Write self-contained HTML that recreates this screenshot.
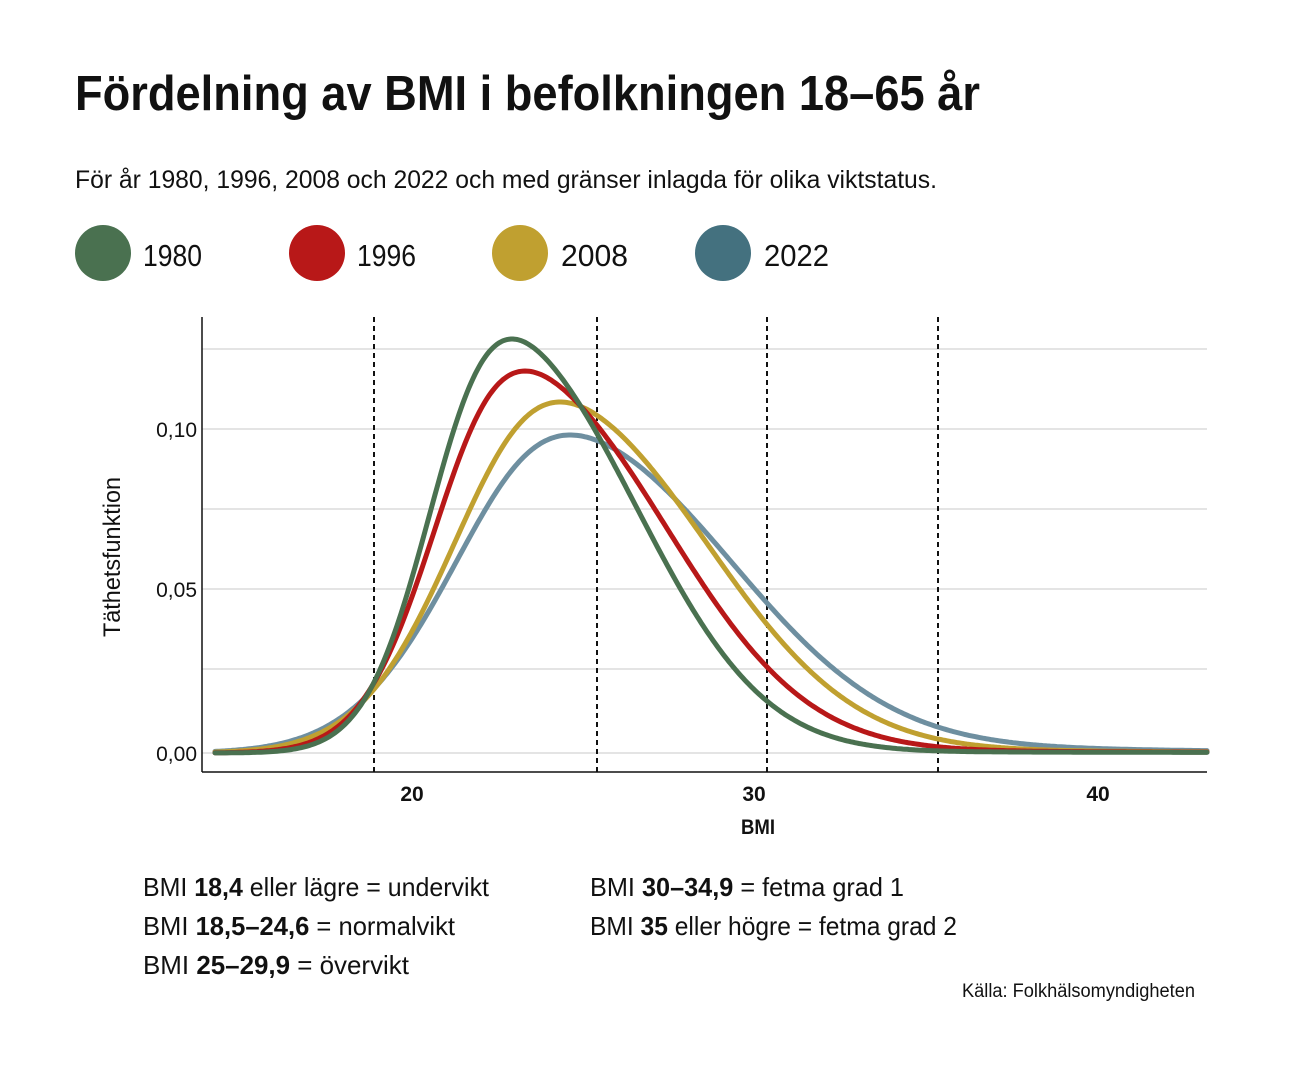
<!DOCTYPE html>
<html><head><meta charset="utf-8"><style>
html,body{margin:0;padding:0;background:#fff}
svg{display:block;font-family:"Liberation Sans",sans-serif}
</style></head><body>
<svg id="s" width="1292" height="1080" viewBox="0 0 1292 1080">
<text x="75" y="110" font-size="49" font-weight="bold" fill="#111" textLength="905" lengthAdjust="spacingAndGlyphs">Fördelning av BMI i befolkningen 18–65 år</text>
<text x="75" y="188" font-size="25" fill="#111" textLength="862" lengthAdjust="spacingAndGlyphs">För år 1980, 1996, 2008 och 2022 och med gränser inlagda för olika viktstatus.</text>
<circle cx="103" cy="253" r="28" fill="#4a7150"/><text x="143" y="266" font-size="31" fill="#111" textLength="59" lengthAdjust="spacingAndGlyphs">1980</text>
<circle cx="317" cy="253" r="28" fill="#b81818"/><text x="357" y="266" font-size="31" fill="#111" textLength="59" lengthAdjust="spacingAndGlyphs">1996</text>
<circle cx="520" cy="253" r="28" fill="#c0a030"/><text x="561" y="266" font-size="31" fill="#111" textLength="67" lengthAdjust="spacingAndGlyphs">2008</text>
<circle cx="723" cy="253" r="28" fill="#44717f"/><text x="764" y="266" font-size="31" fill="#111" textLength="65" lengthAdjust="spacingAndGlyphs">2022</text>
<g stroke="#d4d4d4" stroke-width="1.3">
<line x1="202" x2="1207" y1="349" y2="349"/><line x1="202" x2="1207" y1="429" y2="429"/>
<line x1="202" x2="1207" y1="509" y2="509"/><line x1="202" x2="1207" y1="589" y2="589"/>
<line x1="202" x2="1207" y1="669" y2="669"/><line x1="202" x2="1207" y1="753" y2="753"/>
</g>
<g stroke="#111" stroke-width="2" stroke-dasharray="5,4">
<line x1="374" x2="374" y1="317" y2="772"/><line x1="597" x2="597" y1="317" y2="772"/>
<line x1="767" x2="767" y1="317" y2="772"/><line x1="938" x2="938" y1="317" y2="772"/>
</g>
<g id="curves" fill="none" stroke-width="5" stroke-linecap="round"></g>
<line x1="202" x2="202" y1="317" y2="772" stroke="#111" stroke-width="1.5"/>
<line x1="202" x2="1207" y1="772" y2="772" stroke="#111" stroke-width="1.5"/>
<g font-size="21" fill="#111" text-anchor="end">
<text x="197" y="437">0,10</text><text x="197" y="597">0,05</text><text x="197" y="761">0,00</text>
</g>
<g font-size="21" font-weight="bold" fill="#111" text-anchor="middle">
<text x="412" y="801">20</text><text x="754" y="801">30</text><text x="1098" y="801">40</text>
<text x="758" y="834" textLength="34" lengthAdjust="spacingAndGlyphs">BMI</text>
</g>
<text transform="translate(120,557) rotate(-90)" font-size="24" fill="#111" text-anchor="middle" textLength="160" lengthAdjust="spacingAndGlyphs">Täthetsfunktion</text>
<g font-size="26" fill="#111">
<text x="143" y="896" textLength="346" lengthAdjust="spacingAndGlyphs">BMI <tspan font-weight="bold">18,4</tspan> eller lägre = undervikt</text>
<text x="143" y="935" textLength="312" lengthAdjust="spacingAndGlyphs">BMI <tspan font-weight="bold">18,5–24,6</tspan> = normalvikt</text>
<text x="143" y="974" textLength="266" lengthAdjust="spacingAndGlyphs">BMI <tspan font-weight="bold">25–29,9</tspan> = övervikt</text>
<text x="590" y="896" textLength="314" lengthAdjust="spacingAndGlyphs">BMI <tspan font-weight="bold">30–34,9</tspan> = fetma grad 1</text>
<text x="590" y="935" textLength="367" lengthAdjust="spacingAndGlyphs">BMI <tspan font-weight="bold">35</tspan> eller högre = fetma grad 2</text>
</g>
<text x="1195" y="997" font-size="19" fill="#111" text-anchor="end" textLength="233" lengthAdjust="spacingAndGlyphs">Källa: Folkhälsomyndigheten</text>
</svg>
<script>
var g=document.getElementById('curves');
var series=[[570,318,109,160,4,'#6e8fa0'],[560,351,100,146,2,'#c0a030'],[525,382,80,140,1.5,'#b81818'],[512,414,71,125,1,'#4a7150']];
series.forEach(function(p){
 var d='';
 for(var px=215;px<=1207;px+=2){
  var dx=px-p[0];
  var w=1/(1+Math.exp(-dx/45));
  var s=p[2]+(p[3]-p[2])*w;
  var f=p[1]*Math.exp(-dx*dx/(2*s*s));
  if(dx>0) f+=p[4]*Math.exp(-Math.pow(px-950,2)/(2*250*250))*(1-Math.exp(-dx/200));
  var y=753-f;
  d+=(d?'L':'M')+px+','+y.toFixed(1);
 }
 var e=document.createElementNS('http://www.w3.org/2000/svg','path');
 e.setAttribute('d',d);e.setAttribute('stroke',p[5]);g.appendChild(e);
});
</script>
</body></html>
